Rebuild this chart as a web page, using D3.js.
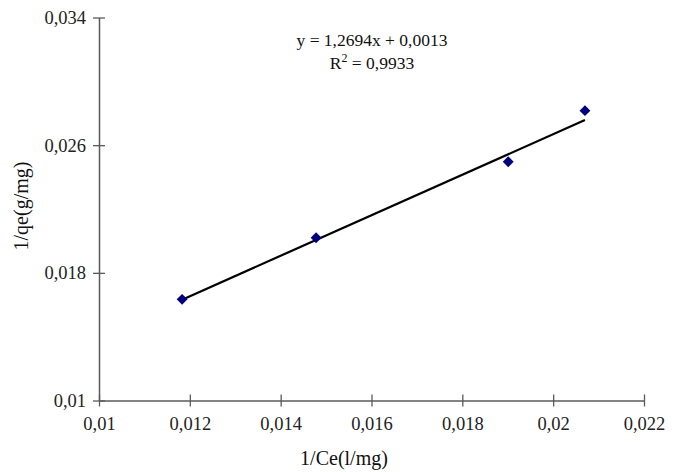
<!DOCTYPE html>
<html>
<head>
<meta charset="utf-8">
<script src="https://cdn.jsdelivr.net/npm/d3@7"></script>
<style>
  html, body { margin: 0; padding: 0; background: #fff; }
  svg { display: block; font-family: "Liberation Serif", "Times New Roman", serif; }
</style>
</head>
<body>
<svg id="chart" width="677" height="472"></svg>
<script>
// ---- data ----
const xValues = [0.01183, 0.01478, 0.01901, 0.0207];   // 1/Ce (l/mg)
const yValues = [0.01634, 0.0202, 0.02496, 0.02816];   // 1/qe (g/mg)
const xTicks = [0.01, 0.012, 0.014, 0.016, 0.018, 0.02, 0.022];
const yTicks = [0.01, 0.018, 0.026, 0.034];
const trendSlope = 1.2694;
const trendIntercept = 0.0013;
const equationText = "y = 1,2694x + 0,0013";
const r2Value = "0,9933";
const xTitle = "1/Ce(l/mg)";
const yTitle = "1/qe(g/mg)";

// ---- layout ----
const svg = d3.select("#chart");
const mLeft = 99, mRight = 644, mTop = 17.5, mBottom = 400.5;

const x = d3.scaleLinear().domain([0.01, 0.022]).range([mLeft, mRight]);
const y = d3.scaleLinear().domain([0.01, 0.034]).range([mBottom, mTop]);

const fmt = v => String(+v.toFixed(4)).replace(".", ",");

const axisColor = "#5a5a5a";

// x axis with cross ticks
const xAxis = svg.append("g").attr("transform", `translate(0,${mBottom})`)
  .call(d3.axisBottom(x).tickValues(xTicks).tickSizeInner(6).tickSizeOuter(0).tickPadding(10).tickFormat(fmt));
xAxis.select(".domain").attr("stroke", axisColor).attr("stroke-width", 1.5);
xAxis.selectAll(".tick line").attr("stroke", axisColor).attr("stroke-width", 1.3).attr("y1", -6).attr("y2", 6);
xAxis.selectAll(".tick text").attr("font-size", 18.5).attr("fill", "#222").attr("font-family", "Liberation Serif");

// y axis with cross ticks
const yAxis = svg.append("g").attr("transform", `translate(${mLeft},0)`)
  .call(d3.axisLeft(y).tickValues(yTicks).tickSizeInner(6).tickSizeOuter(0).tickPadding(7).tickFormat(fmt));
yAxis.select(".domain").attr("stroke", axisColor).attr("stroke-width", 1.5);
yAxis.selectAll(".tick line").attr("stroke", axisColor).attr("stroke-width", 1.3).attr("x1", -6).attr("x2", 6);
yAxis.selectAll(".tick text").attr("font-size", 18.5).attr("fill", "#222").attr("font-family", "Liberation Serif");

// trendline over data range
const xMin = d3.min(xValues), xMax = d3.max(xValues);
const trend = [xMin, xMax].map(v => [v, trendSlope * v + trendIntercept]);
svg.append("path")
  .attr("d", d3.line().x(d => x(d[0])).y(d => y(d[1]))(trend))
  .attr("fill", "none").attr("stroke", "#000").attr("stroke-width", 2.2);

// markers (diamonds)
const pts = xValues.map((v, i) => [v, yValues[i]]);
svg.append("g").selectAll("path").data(pts).join("path")
  .attr("transform", d => `translate(${x(d[0])},${y(d[1])})`)
  .attr("d", d3.symbol().type(d3.symbolDiamond2).size(75))
  .attr("fill", "#00007f");

// equation
svg.append("text").attr("x", 372).attr("y", 46).attr("text-anchor", "middle")
  .attr("font-size", 17.5).attr("fill", "#111").text(equationText);
const r2 = svg.append("text").attr("x", 372).attr("y", 69).attr("text-anchor", "middle")
  .attr("font-size", 17.5).attr("fill", "#111");
r2.append("tspan").text("R");
r2.append("tspan").attr("font-size", 12).attr("dy", -7).text("2");
r2.append("tspan").attr("dy", 7).text(" = " + r2Value);

// axis titles
svg.append("text").attr("x", 344).attr("y", 465).attr("text-anchor", "middle")
  .attr("font-size", 20).attr("fill", "#111").text(xTitle);
svg.append("text").attr("transform", `translate(28,${(mTop + mBottom) / 2 - 3}) rotate(-90)`)
  .attr("text-anchor", "middle").attr("font-size", 20).attr("fill", "#111").text(yTitle);
</script>
</body>
</html>
